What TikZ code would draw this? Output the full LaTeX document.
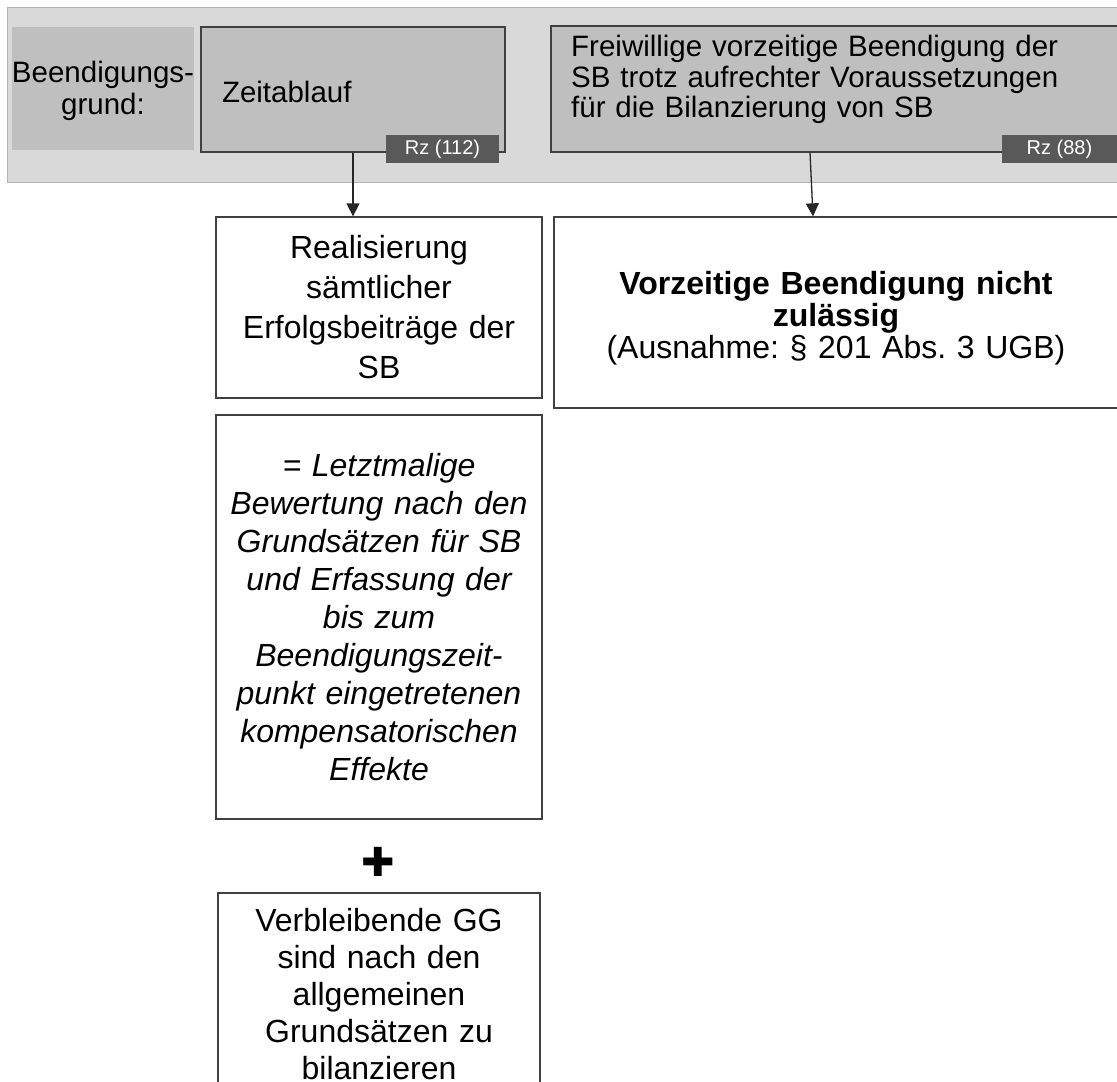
\documentclass[tikz,border=0pt]{standalone}
\usepackage{fontspec}
\setmainfont{Liberation Sans}
\newfontfamily\symfont{DejaVu Sans}
\usetikzlibrary{arrows.meta}
\frenchspacing
\definecolor{bandfill}{HTML}{D9D9D9}
\definecolor{bandline}{HTML}{B3B3B3}
\definecolor{headfill}{HTML}{BFBFBF}
\definecolor{tagfill}{HTML}{595959}
\definecolor{boxline}{HTML}{404040}
\begin{document}
\begin{tikzpicture}[x=1pt,y=-1pt,
  every node/.style={inner sep=0pt},
  head/.style={draw=boxline,line width=1.3pt,fill=headfill,font=\fontsize{29.5}{31}\selectfont},
  box/.style={draw=boxline,line width=1.3pt,fill=white,align=center,minimum width=326pt},
  tag/.style={fill=tagfill,text=white,minimum width=113pt,minimum height=28pt,font=\fontsize{20}{20}\selectfont},
  arr/.style={-{Triangle[width=13pt,length=13pt]},line width=1.3pt,draw=black!85}]
  \useasboundingbox (0,0) rectangle (1117,1082);
  % header band
  \node[fill=bandfill,draw=bandline,line width=1pt,minimum width=1120pt,minimum height=175pt] (band) at (567,94.5) {};
  \node[fill=headfill,minimum width=182pt,minimum height=123pt,align=center,font=\fontsize{29.5}{32}\selectfont] (grund) at (103,88.5) {\rule{0pt}{27pt}Beendigungs-\\grund:};
  \node[head,minimum width=304pt,minimum height=125pt,text width=262pt,inner xsep=21pt,align=left] (zeit) at (353,89.5) {\rule{0pt}{27pt}Zeitablauf};
  \node[head,minimum width=568pt,minimum height=126pt] (frei) at (835,89) {};
  \node[anchor=north west,text width=540pt,align=left,font=\fontsize{29.5}{30.5}\selectfont] (freitxt) at (571,35) {Freiwillige vorzeitige Beendigung der\\SB trotz aufrechter Voraussetzungen\\für die Bilanzierung von SB};
  \node[tag] (tag112) at (442.5,149) {Rz (112)};
  \node[tag,minimum width=115pt] (tag88) at (1059.5,149) {Rz (88)};
  % result boxes
  \node[box,minimum height=181pt,text width=310pt,font=\fontsize{32}{40}\selectfont] (real) at (379,307.5) {Realisierung\\sämtlicher\\Erfolgsbeiträge der\\SB};
  \node[box,minimum width=564pt,minimum height=191pt,text width=540pt,font=\fontsize{32}{32}\selectfont] (nicht) at (836,312.5) {\rule{0pt}{34pt}\textbf{Vorzeitige Beendigung nicht}\\\textbf{zulässig}\\(Ausnahme: § 201 Abs. 3 UGB)};
  \node[box,minimum height=404pt,text width=310pt,font=\fontsize{32}{38}\selectfont\itshape] (letzt) at (379,617) {= Letztmalige\\Bewertung nach den\\Grundsätzen für SB\\und Erfassung der\\bis zum\\Beendigungszeit-\\punkt eingetretenen\\kompensatorischen\\Effekte};
  \node[font=\symfont\fontsize{40}{40}\selectfont] (plus) at (378,862) {✚};
  \node[box,minimum width=322pt,minimum height=203pt,text width=310pt,font=\fontsize{32}{37}\selectfont] (rest) at (379,994.5) {Verbleibende GG\\sind nach den\\allgemeinen\\Grundsätzen zu\\bilanzieren};
  \draw[arr] (zeit.south) -- (zeit.south |- real.north);
  \draw[arr] ([xshift=-25pt]frei.south) -- ([xshift=-23pt]nicht.north);
\end{tikzpicture}
\end{document}
